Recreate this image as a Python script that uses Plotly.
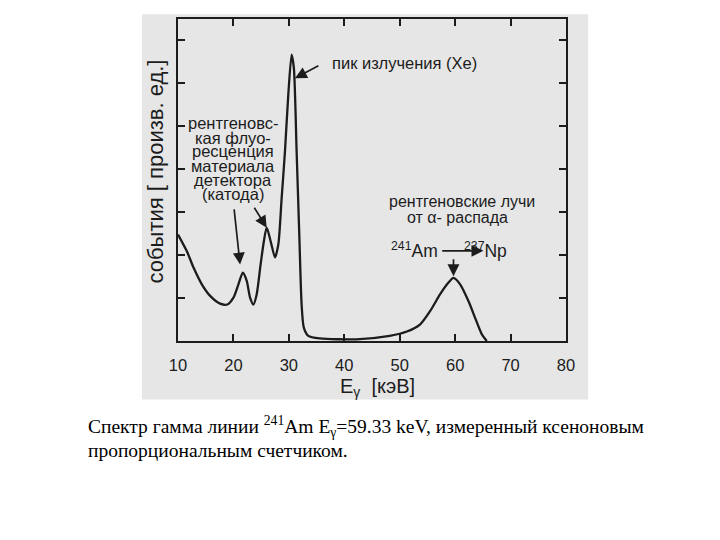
import plotly.graph_objects as go

# Spectrum (energy in keV, counts in arbitrary units)
energy = [10.0, 11.6, 12.8, 14.3, 15.8, 17.6, 18.9, 20.0, 20.9, 21.7, 22.4, 23.0,
          23.6, 24.2, 24.9, 25.5, 26.0, 26.7, 27.5, 28.1, 28.7, 29.3, 29.9, 30.5,
          30.9, 31.4, 31.9, 32.3, 32.7, 33.5, 35.6, 42.2, 48.2, 51.3, 53.7, 55.5,
          57.3, 58.8, 59.7, 60.9, 62.4, 63.6, 64.8, 65.7]
counts = [2.48, 2.09, 1.71, 1.32, 1.05, 0.87, 0.85, 1.01, 1.32, 1.59, 1.40, 1.01,
          0.85, 1.09, 1.78, 2.33, 2.64, 2.33, 1.95, 2.25, 3.33, 4.42, 5.74, 6.67,
          6.36, 4.42, 2.40, 0.85, 0.31, 0.12, 0.06, 0.04, 0.12, 0.22, 0.39, 0.70,
          1.09, 1.36, 1.47, 1.32, 0.93, 0.54, 0.16, 0.0]

x_ticks = [10, 20, 30, 40, 50, 60, 70, 80]
y_ticks = [1, 2, 3, 4, 5, 6, 7]

fluor_lines = ["рентгеновс-", "кая флуо-", "ресценция", "материала", "детектора", "(катода)"]
fluor_y = [5.07, 4.74, 4.42, 4.07, 3.74, 3.42]

ink = "#1c1c1c"
sans = "Liberation Sans, Arial, sans-serif"
serif = "Liberation Serif, Times New Roman, serif"

fig = go.Figure()
fig.add_trace(go.Scatter(x=energy, y=counts, mode="lines",
                         line=dict(color=ink, width=2.3, shape="spline", smoothing=0.7),
                         showlegend=False, hoverinfo="skip"))

ann = []
# Fluorescence text block
for t, yv in zip(fluor_lines, fluor_y):
    ann.append(dict(x=19.9, y=yv, xref="x", yref="y", text=t, showarrow=False,
                    font=dict(family=sans, size=16.5, color=ink), xanchor="center", yanchor="middle"))
# Xe peak text
ann.append(dict(x=37.4, y=6.47, xref="x", yref="y", text="пик излучения (Xe)", showarrow=False,
                font=dict(family=sans, size=16.5, color=ink), xanchor="left", yanchor="middle"))
# alpha decay text
ann.append(dict(x=61.2, y=3.26, xref="x", yref="y", text="рентгеновские лучи", showarrow=False,
                font=dict(family=sans, size=16, color=ink), xanchor="center", yanchor="middle"))
ann.append(dict(x=60.4, y=2.87, xref="x", yref="y", text="от α- распада", showarrow=False,
                font=dict(family=sans, size=16, color=ink), xanchor="center", yanchor="middle"))
ann.append(dict(x=57.3, y=2.12, xref="x", yref="y", text="<sup>241</sup>Am", showarrow=False,
                font=dict(family=sans, size=17.5, color=ink), xanchor="right", yanchor="middle"))
ann.append(dict(x=61.2, y=2.12, xref="x", yref="y", text="<sup>237</sup>Np", showarrow=False,
                font=dict(family=sans, size=17.5, color=ink), xanchor="left", yanchor="middle"))

# Arrows (tail -> head)
arrows = [((35.6, 6.43), (31.1, 6.12)),
          ((20.1, 3.10), (21.2, 1.78)),
          ((23.6, 3.14), (26.0, 2.64)),
          ((59.7, 1.94), (59.7, 1.51)),
          ((57.4, 2.10), (65.1, 2.10))]
for (tx, ty), (hx, hy) in arrows:
    ann.append(dict(x=hx, y=hy, ax=tx, ay=ty, xref="x", yref="y", axref="x", ayref="y",
                    text="", showarrow=True, arrowhead=2, arrowsize=1.4, arrowwidth=1.7,
                    arrowcolor=ink))

# Axis titles
ann.append(dict(x=-0.057, y=0.526, xref="paper", yref="paper", text="события [ произв. ед.]",
                textangle=-90, showarrow=False, font=dict(family=sans, size=22, color=ink),
                xanchor="center", yanchor="middle"))
ann.append(dict(x=0.514, y=-0.143, xref="paper", yref="paper", text="E<sub>γ</sub>  [кэВ]",
                showarrow=False, font=dict(family=sans, size=20, color=ink),
                xanchor="center", yanchor="middle"))

# Caption
ann.append(dict(x=-0.238, y=-0.265, xref="paper", yref="paper",
                text="Спектр гамма линии <sup>241</sup>Am E<sub>γ</sub>=59.33 keV, измеренный ксеноновым",
                showarrow=False, font=dict(family=serif, size=19.5, color="#000000"),
                xanchor="left", yanchor="middle"))
ann.append(dict(x=-0.238, y=-0.340, xref="paper", yref="paper",
                text="пропорциональным счетчиком.",
                showarrow=False, font=dict(family=serif, size=19.5, color="#000000"),
                xanchor="left", yanchor="middle"))

fig.update_layout(
    width=712, height=532,
    margin=dict(l=170, r=154, t=9, b=199),
    paper_bgcolor="white", plot_bgcolor="rgba(0,0,0,0)",
    annotations=ann,
    shapes=[dict(type="rect", xref="paper", yref="paper", x0=-0.093, x1=1.057, y0=-0.182, y1=1.015,
                 fillcolor="#e6e6e6", line=dict(width=0), layer="below")],
)
fig.update_xaxes(range=[10, 80], tickvals=x_ticks, ticks="inside", ticklen=7, tickwidth=1.5,
                 tickcolor=ink, showline=True, linecolor=ink, linewidth=2, mirror="ticks",
                 showgrid=False, zeroline=False, tickfont=dict(family=sans, size=16.5, color=ink),
                 ticklabelstandoff=8)
fig.update_yaxes(range=[0, 7.5], tickvals=y_ticks, ticks="inside", ticklen=7, tickwidth=1.5,
                 tickcolor=ink, showline=True, linecolor=ink, linewidth=2, mirror="ticks",
                 showgrid=False, zeroline=False, showticklabels=False)

fig.write_html("out.html")
